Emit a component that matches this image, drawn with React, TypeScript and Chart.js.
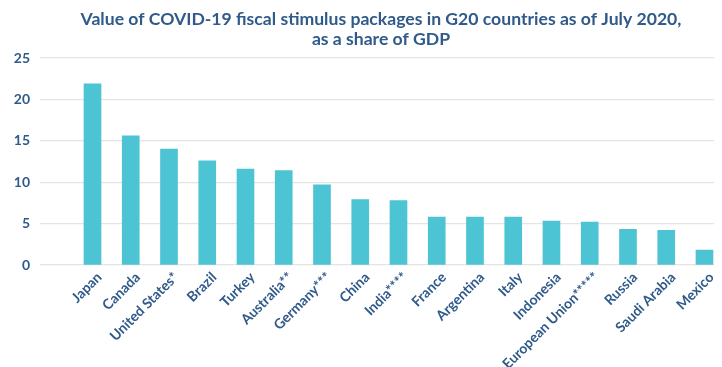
import React, { useEffect, useRef } from "react";
import { Chart, registerables } from "chart.js";

Chart.register(...registerables);

const countries = [
  "Japan",
  "Canada",
  "United States*",
  "Brazil",
  "Turkey",
  "Australia**",
  "Germany***",
  "China",
  "India****",
  "France",
  "Argentina",
  "Italy",
  "Indonesia",
  "European Union*****",
  "Russia",
  "Saudi Arabia",
  "Mexico",
];

const shareOfGdp = [21.9, 15.6, 14.0, 12.6, 11.6, 11.4, 9.7, 7.9, 7.8, 5.8, 5.8, 5.8, 5.3, 5.2, 4.3, 4.2, 1.8];

const yTicks = [0, 5, 10, 15, 20, 25];

const titleLines = [
  "Value of COVID-19 fiscal stimulus packages in G20 countries as of July 2020,",
  "as a share of GDP",
];

const TEXT = "#2f5a8a";
const BAR = "#4dc4d3";
const FONT = "Lato, 'Open Sans', sans-serif";

export default function App() {
  const ref = useRef<HTMLCanvasElement | null>(null);

  useEffect(() => {
    if (!ref.current) return;
    const chart = new Chart(ref.current, {
      type: "bar",
      data: {
        datasets: [
          {
            data: shareOfGdp.map((v, i) => ({ x: i, y: v })),
            backgroundColor: BAR,
            barThickness: 17,
          },
        ],
      },
      options: {
        animation: false,
        responsive: true,
        maintainAspectRatio: false,
        layout: { padding: 0 },
        plugins: {
          legend: { display: false },
          tooltip: { enabled: false },
          title: {
            display: true,
            text: titleLines,
            color: TEXT,
            fullSize: false,
            font: { family: FONT, size: 17.6, weight: "bold", lineHeight: 1.14 },
            padding: { top: 9, bottom: 9 },
          },
        },
        scales: {
          x: {
            type: "linear",
            offset: false,
            min: -1.3725,
            max: 16.458,
            grid: { display: false, offset: false },
            border: { display: false },
            afterBuildTicks: (axis: any) => {
              axis.ticks = countries.map((_, i) => ({ value: i }));
            },
            afterFit: (axis: any) => {
              axis.height = 102;
            },
            ticks: {
              autoSkip: false,
              minRotation: 45,
              maxRotation: 45,
              labelOffset: 7,
              padding: -4,
              color: TEXT,
              font: { family: FONT, size: 14, weight: "bold" },
              callback: (v: any) => countries[Math.round(Number(v))] ?? "",
            },
          },
          y: {
            min: 0,
            max: 25,
            border: { display: false },
            afterBuildTicks: (axis: any) => {
              axis.ticks = yTicks.map((v) => ({ value: v }));
            },
            afterFit: (axis: any) => {
              axis.width = 40;
            },
            grid: { color: "#e4e4e4", lineWidth: 1.3, drawTicks: false },
            ticks: {
              padding: 10,
              color: TEXT,
              font: { family: FONT, size: 14, weight: "bold" },
            },
          },
        },
      },
    });
    return () => chart.destroy();
  }, []);

  return (
    <div style={{ position: "relative", width: 722, height: 367, margin: "-8px 0 0 -8px" }}>
      <canvas ref={ref} />
    </div>
  );
}
